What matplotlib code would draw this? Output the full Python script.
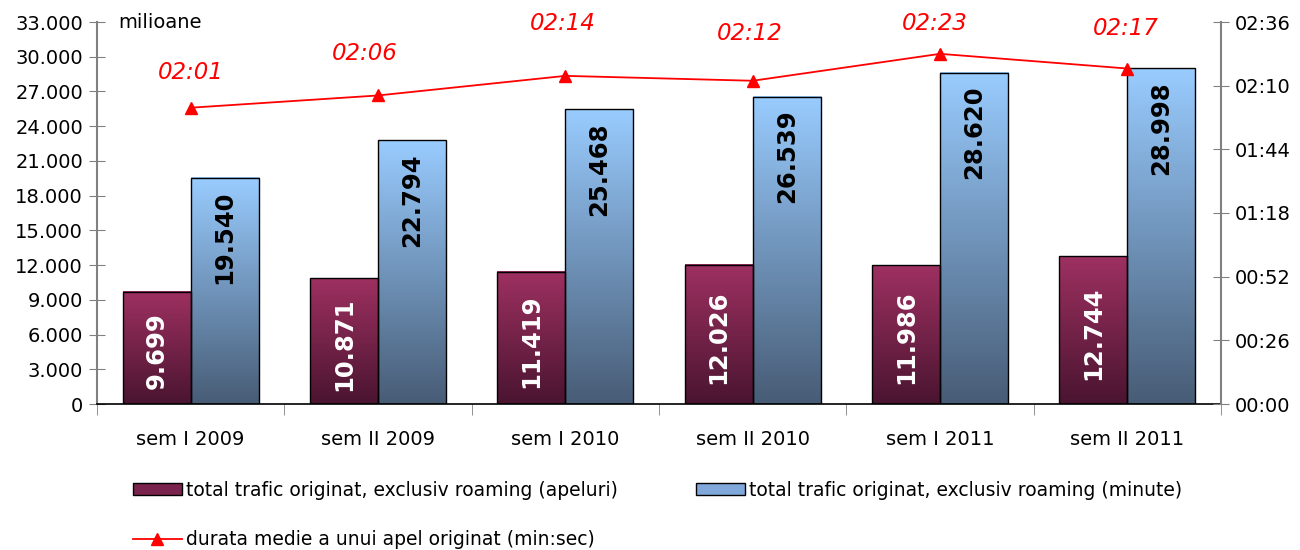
import numpy as np
import matplotlib
matplotlib.use("Agg")
import matplotlib.pyplot as plt
from matplotlib.ticker import FuncFormatter, FixedLocator
from matplotlib.colors import LinearSegmentedColormap
from matplotlib.lines import Line2D
from matplotlib.patches import Patch

categories = ["sem I 2009", "sem II 2009", "sem I 2010", "sem II 2010", "sem I 2011", "sem II 2011"]
apeluri = [9699, 10871, 11419, 12026, 11986, 12744]
minute = [19540, 22794, 25468, 26539, 28620, 28998]
durata_sec = [121, 126, 134, 132, 143, 137]

lbl_apeluri = "total trafic originat, exclusiv roaming (apeluri)"
lbl_minute = "total trafic originat, exclusiv roaming (minute)"
lbl_durata = "durata medie a unui apel originat (min:sec)"

# label placement offsets (pixels) for the line labels
lab_dx = [0, -13, -3, -3, -5, -2]
lab_dy = [35, 42, 52, 47, 30, 40]

plt.rcParams['font.family'] = ['DejaVu Sans']

fig = plt.figure(figsize=(13, 5.5), dpi=100)
ax = fig.add_axes([97/1300, 1-404/550, (1221-97)/1300, (404-22)/550])
ax2 = ax.twinx()

x = np.arange(len(categories))
w = 0.363
b1 = ax.bar(x - w/2, apeluri, w, color='none', edgecolor='black', linewidth=1.0, zorder=3)
b2 = ax.bar(x + w/2, minute, w, color='none', edgecolor='black', linewidth=1.0, zorder=3)

cm1 = LinearSegmentedColormap.from_list('m', [(0.29, 0.08, 0.19), (0.62, 0.19, 0.38)])
cm2 = LinearSegmentedColormap.from_list('b', [(0.28, 0.36, 0.46), (0.60, 0.80, 1.0)])
grad = np.linspace(0, 1, 256).reshape(-1, 1)
for bars, cmap in ((b1, cm1), (b2, cm2)):
    for p in bars:
        x0, wd, h = p.get_x(), p.get_width(), p.get_height()
        ax.imshow(grad, cmap=cmap, origin='lower', aspect='auto',
                  extent=(x0, x0 + wd, 0, h), zorder=2)

ax.set_xlim(-0.5, len(categories) - 0.5)
ax.set_ylim(0, 33000)
ax.set_yticks(np.arange(0, 33001, 3000))
ax.yaxis.set_major_formatter(FuncFormatter(lambda v, p: f"{int(v):,}".replace(",", ".")))
ax.set_xticks(x)
ax.set_xticklabels(categories, fontsize=14)
ax.xaxis.set_minor_locator(FixedLocator(np.arange(-0.5, len(categories), 1.0)))
ax.tick_params(axis='x', which='major', length=0, pad=19)
ax.tick_params(axis='x', which='minor', length=8, color='#808080', direction='out')
ax.tick_params(axis='y', labelsize=14, direction='inout', length=12, color='#808080', pad=4)

ax.spines['top'].set_visible(False)
ax2.spines['top'].set_visible(False)
ax.spines['left'].set_color('#808080')
ax.spines['left'].set_linewidth(1.5)
ax.spines['right'].set_visible(False)
ax.spines['bottom'].set_color('black')
ax.spines['bottom'].set_linewidth(1.2)
ax2.spines['right'].set_color('#808080')
ax2.spines['right'].set_linewidth(1.5)
ax2.spines['left'].set_visible(False)
ax2.spines['bottom'].set_visible(False)

# value labels
for p, v in zip(b1, apeluri):
    ax.annotate(f"{v:,}".replace(",", "."), (p.get_x() + p.get_width()/2, p.get_height()/2),
                xytext=(0, -3), textcoords='offset pixels',
                rotation=90, ha='center', va='center', color='white', fontsize=17.5,
                fontweight='bold', zorder=5)
for p, v in zip(b2, minute):
    ax.annotate(f"{v:,}".replace(",", "."), (p.get_x() + p.get_width()/2, p.get_height()),
                xytext=(0, -13), textcoords='offset pixels',
                rotation=90, ha='center', va='top', color='black', fontsize=17.5,
                fontweight='bold', zorder=5)

fig.text(118/1300, 1-22/550, "milioane", fontsize=14, va='center', ha='left')

# line on secondary axis
ax2.plot(x, durata_sec, color='#FF0000', linewidth=1.3, marker='^', markersize=8, zorder=6)
ax2.set_ylim(0, 156)
ax2.set_yticks(np.arange(0, 157, 26))
ax2.yaxis.set_major_formatter(FuncFormatter(lambda v, p: f"{int(v)//60:02d}:{int(v)%60:02d}"))
ax2.tick_params(axis='y', labelsize=14, direction='inout', length=12, color='#808080', pad=4)
for xi, v, dx, dy in zip(x, durata_sec, lab_dx, lab_dy):
    ax2.annotate(f"{v//60:02d}:{v%60:02d}", (xi, v), xytext=(dx, dy), textcoords='offset pixels',
                 ha='center', va='center', color='#FF0000', fontsize=16.5, fontstyle='italic')

handles = [Patch(facecolor=(0.48, 0.14, 0.30), edgecolor='black', label=lbl_apeluri),
           Line2D([0], [0], color='#FF0000', marker='^', markersize=8, linewidth=1.3, label=lbl_durata),
           Patch(facecolor=(0.50, 0.66, 0.86), edgecolor='black', label=lbl_minute)]
leg = fig.legend(handles=handles, loc='upper left', bbox_to_anchor=(133/1300, 1-481/550),
                 ncol=2, frameon=False, fontsize=13.5, handlelength=2.6, handleheight=0.62,
                 handletextpad=0.2, columnspacing=4.2, labelspacing=1.62, borderaxespad=0,
                 borderpad=0)

fig.savefig("out.png", dpi=100)
